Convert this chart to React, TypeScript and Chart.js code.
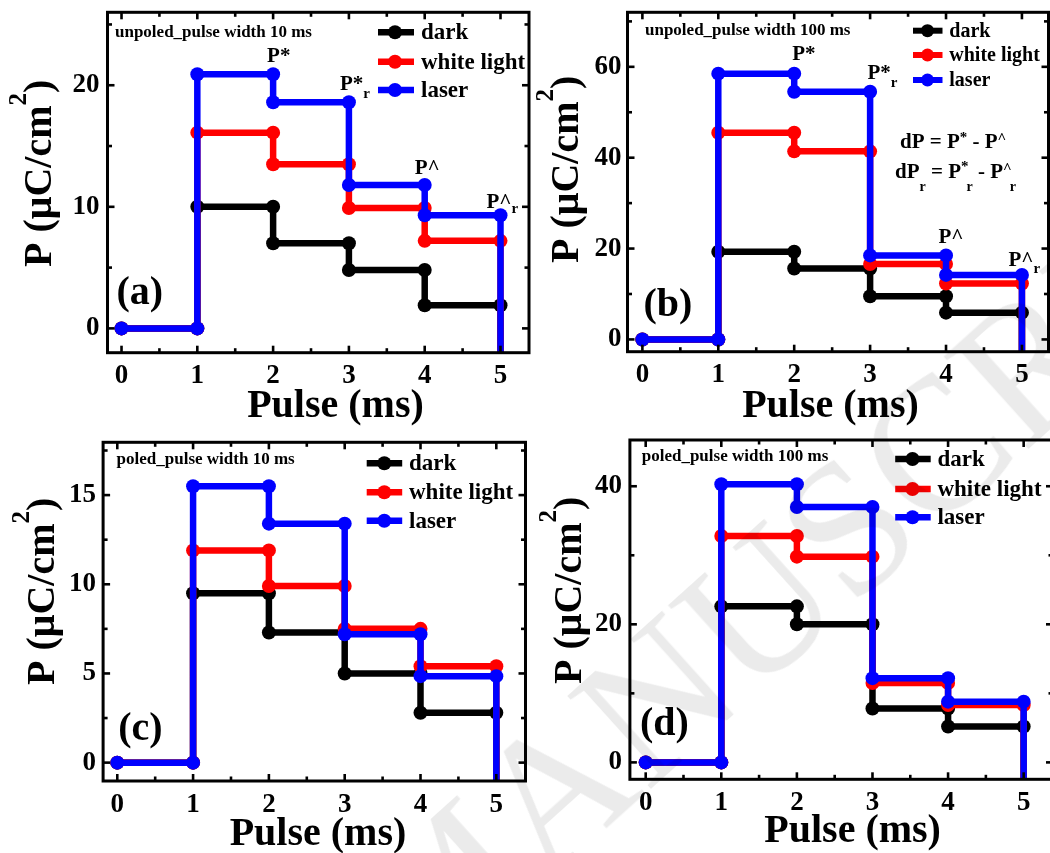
import React, { useEffect, useRef } from 'react';
import { Chart, registerables } from 'chart.js';

Chart.register(...registerables);

const SERIF = '"Liberation Serif", "Times New Roman", Times, serif';
const PAGE_W = 1050;
const PAGE_H = 853;
const CANVAS_W = 1060;

// Pulse number at each vertex of the stepped traces (each level is held for one pulse)
const pulse = [0, 1, 1, 2, 2, 3, 3, 4, 4, 5, 5];
const seriesNames = ['dark', 'white light', 'laser'];
const seriesColors = ['#000000', '#ff0000', '#0000ff'];
const xTickValues = [0, 1, 2, 3, 4, 5];

// (a) unpoled, pulse width 10 ms — P in µC/cm² (last vertex drops off-scale after pulse 5)
const unpoled10Dark = [0, 0, 10.0, 10.0, 7.0, 7.0, 4.8, 4.8, 1.9, 1.9, -10];
const unpoled10White = [0, 0, 16.1, 16.1, 13.5, 13.5, 9.9, 9.9, 7.2, 7.2, -10];
const unpoled10Laser = [0, 0, 20.9, 20.9, 18.6, 18.6, 11.8, 11.8, 9.3, 9.3, -10];
const unpoled10Ticks = [0, 10, 20];

// (b) unpoled, pulse width 100 ms
const unpoled100Dark = [0, 0, 19.3, 19.3, 15.6, 15.6, 9.5, 9.5, 5.9, 5.9, -10];
const unpoled100White = [0, 0, 45.5, 45.5, 41.4, 41.4, 16.6, 16.6, 12.3, 12.3, -10];
const unpoled100Laser = [0, 0, 58.5, 58.5, 54.5, 54.5, 18.5, 18.5, 14.2, 14.2, -10];
const unpoled100Ticks = [0, 20, 40, 60];

// (c) poled, pulse width 10 ms
const poled10Dark = [0, 0, 9.5, 9.5, 7.3, 7.3, 5.0, 5.0, 2.8, 2.8, -10];
const poled10White = [0, 0, 11.9, 11.9, 9.9, 9.9, 7.5, 7.5, 5.4, 5.4, -10];
const poled10Laser = [0, 0, 15.5, 15.5, 13.4, 13.4, 7.2, 7.2, 4.85, 4.85, -10];
const poled10Ticks = [0, 5, 10, 15];

// (d) poled, pulse width 100 ms
const poled100Dark = [0, 0, 22.6, 22.6, 20.0, 20.0, 7.8, 7.8, 5.2, 5.2, -10];
const poled100White = [0, 0, 32.8, 32.8, 29.8, 29.8, 11.5, 11.5, 8.3, 8.3, -10];
const poled100Laser = [0, 0, 40.3, 40.3, 37.0, 37.0, 12.2, 12.2, 8.8, 8.8, -10];
const poled100Ticks = [0, 20, 40];

interface Part { t: string; size?: number; dy?: number; gap?: number }
interface Mark { idx: number; parts: Part[]; dx: number; dy: number }
interface PanelCfg {
  key: string;
  area: { left: number; top: number; right: number; bottom: number };
  xRange: [number, number];
  yRange: [number, number];
  yTicks: number[];
  yMinorStep: number;
  series: number[][];
  note: string;
  notePos: [number, number];
  letter: string;
  letterPos: [number, number];
  legend: { x1: number; x2: number; xm: number; xt: number; rows: number[]; size: number; lw: number; r: number };
  yTitlePos: [number, number];
  xTitlePos: [number, number];
  yTickPad: number;
  xTickPad: number;
  marks: Mark[];
  formulas: { parts: Part[]; x: number; y: number; size: number }[];
}

const sub = (t: string, dy: number): Part => ({ t, size: 15, dy });

const panels: PanelCfg[] = [
  {
    key: 'a',
    area: { left: 107.5, top: 12.3, right: 529, bottom: 352.7 },
    xRange: [-0.185, 5.376],
    yRange: [-2, 26],
    yTicks: unpoled10Ticks,
    yMinorStep: 5,
    series: [unpoled10Dark, unpoled10White, unpoled10Laser],
    note: 'unpoled_pulse width 10 ms',
    notePos: [115, 37],
    letter: '(a)',
    letterPos: [116.5, 304],
    legend: { x1: 378, x2: 414, xm: 395, xt: 421, rows: [32.3, 61.7, 90], size: 23, lw: 6.5, r: 7 },
    yTitlePos: [51, 267],
    xTitlePos: [335.5, 417],
    yTickPad: 8,
    xTickPad: 7,
    marks: [
      { idx: 3, parts: [{ t: 'P*' }], dx: -6, dy: -12.3 },
      { idx: 5, parts: [{ t: 'P*' }, sub('r', 8)], dx: -9, dy: -12.6 },
      { idx: 7, parts: [{ t: 'P^' }], dx: -10, dy: -11.4 },
      { idx: 9, parts: [{ t: 'P^' }, sub('r', 5)], dx: -14, dy: -7 },
    ],
    formulas: [],
  },
  {
    key: 'b',
    area: { left: 627.5, top: 12.3, right: 1048.5, bottom: 351.7 },
    xRange: [-0.196, 5.35],
    yRange: [-2.7, 72],
    yTicks: unpoled100Ticks,
    yMinorStep: 10,
    series: [unpoled100Dark, unpoled100White, unpoled100Laser],
    note: 'unpoled_pulse width 100 ms',
    notePos: [645, 35],
    letter: '(b)',
    letterPos: [643.5, 316],
    legend: { x1: 913, x2: 942.5, xm: 927.5, xt: 949.3, rows: [30.7, 55, 80], size: 20, lw: 6, r: 6.5 },
    yTitlePos: [577.5, 263],
    xTitlePos: [830.5, 417],
    yTickPad: 6,
    xTickPad: 7.5,
    marks: [
      { idx: 3, parts: [{ t: 'P*' }], dx: -2, dy: -13.5 },
      { idx: 5, parts: [{ t: 'P*' }, sub('r', 8)], dx: -2.6, dy: -13 },
      { idx: 7, parts: [{ t: 'P^' }], dx: -7.5, dy: -12.5 },
      { idx: 9, parts: [{ t: 'P^' }, sub('r', 7)], dx: -13.5, dy: -8.5 },
    ],
    formulas: [
      {
        x: 900, y: 148, size: 21,
        parts: [{ t: 'dP = P' }, { t: '*', size: 15, dy: -6 }, { t: ' - P' }, { t: '^', size: 15, dy: -5 }],
      },
      {
        x: 895, y: 178, size: 21,
        parts: [
          { t: 'dP' }, { t: 'r', size: 14, dy: 13 }, { t: ' = P' },
          { t: '*', size: 15, dy: -7, gap: -2 }, { t: 'r', size: 14, dy: 13 },
          { t: ' - P' }, { t: '^', size: 15, dy: -5, gap: -2 }, { t: 'r', size: 14, dy: 13 },
        ],
      },
    ],
  },
  {
    key: 'c',
    area: { left: 103.1, top: 442.3, right: 525.5, bottom: 781 },
    xRange: [-0.187, 5.385],
    yRange: [-1.03, 17.96],
    yTicks: poled10Ticks,
    yMinorStep: 2.5,
    series: [poled10Dark, poled10White, poled10Laser],
    note: 'poled_pulse width 10 ms',
    notePos: [116.6, 464],
    letter: '(c)',
    letterPos: [118.3, 740],
    legend: { x1: 366.7, x2: 402.2, xm: 384.3, xt: 409, rows: [463.3, 492.3, 520.7], size: 23, lw: 6.5, r: 7 },
    yTitlePos: [54, 685],
    xTitlePos: [318, 845],
    yTickPad: 7,
    xTickPad: 7.8,
    marks: [],
    formulas: [],
  },
  {
    key: 'd',
    area: { left: 629.9, top: 440, right: 1053, bottom: 779.3 },
    xRange: [-0.209, 5.388],
    yRange: [-2.45, 46.7],
    yTicks: poled100Ticks,
    yMinorStep: 10,
    series: [poled100Dark, poled100White, poled100Laser],
    note: 'poled_pulse width 100 ms',
    notePos: [641.7, 461],
    letter: '(d)',
    letterPos: [640, 735],
    legend: { x1: 895.2, x2: 930.7, xm: 912.5, xt: 937.4, rows: [459, 489, 517.3], size: 23, lw: 6.5, r: 7 },
    yTitlePos: [581, 684],
    xTitlePos: [852.6, 842],
    yTickPad: 8,
    xTickPad: 7.8,
    marks: [],
    formulas: [],
  },
];

function minorValues(min: number, max: number, step: number, majors: number[]) {
  const out: number[] = [];
  for (let k = Math.ceil(min / step); k * step <= max; k++) {
    const v = k * step;
    if (!majors.some((m) => Math.abs(m - v) < 1e-9)) out.push(v);
  }
  return out;
}

function drawRich(ctx: CanvasRenderingContext2D, parts: Part[], x: number, y: number, size: number) {
  let cx = x;
  for (const p of parts) {
    const s = p.size ?? size;
    ctx.font = `bold ${s}px ${SERIF}`;
    ctx.fillText(p.t, cx, y + (p.dy ?? 0));
    cx += ctx.measureText(p.t).width + (p.gap ?? 0);
  }
}

function decor(cfg: PanelCfg) {
  return {
    id: 'decor',
    afterDatasetsDraw(chart: any) {
      const { ctx, chartArea: ca } = chart;
      const xs = chart.scales.x;
      const ys = chart.scales.y;
      ctx.save();
      ctx.strokeStyle = '#000';
      ctx.lineCap = 'butt';
      const seg = (x1: number, y1: number, x2: number, y2: number) => {
        ctx.beginPath();
        ctx.moveTo(x1, y1);
        ctx.lineTo(x2, y2);
        ctx.stroke();
      };
      const xTick = (v: number, len: number) => {
        const px = xs.getPixelForValue(v);
        seg(px, ca.bottom, px, ca.bottom - len);
        seg(px, ca.top, px, ca.top + len);
      };
      const yTick = (v: number, len: number) => {
        const py = ys.getPixelForValue(v);
        seg(ca.left, py, ca.left + len, py);
        seg(ca.right, py, ca.right - len, py);
      };
      ctx.lineWidth = 2.6;
      xTickValues.forEach((v) => xTick(v, 7));
      cfg.yTicks.forEach((v) => yTick(v, 7));
      minorValues(xs.min, xs.max, 0.5, xTickValues).forEach((v) => xTick(v, 4.5));
      minorValues(ys.min, ys.max, cfg.yMinorStep, cfg.yTicks).forEach((v) => yTick(v, 4.5));
      ctx.lineWidth = 3;
      ctx.strokeRect(ca.left, ca.top, ca.right - ca.left, ca.bottom - ca.top);
      ctx.restore();
    },
    afterDraw(chart: any) {
      const { ctx } = chart;
      const xs = chart.scales.x;
      const ys = chart.scales.y;
      ctx.save();
      ctx.fillStyle = '#000';
      ctx.textBaseline = 'alphabetic';
      ctx.textAlign = 'left';

      // condition note
      ctx.font = `bold 17px ${SERIF}`;
      ctx.fillText(cfg.note, cfg.notePos[0], cfg.notePos[1]);

      // panel letter
      ctx.font = `bold 40px ${SERIF}`;
      ctx.fillText(cfg.letter, cfg.letterPos[0], cfg.letterPos[1]);

      // legend: line sample with a dot, then the series name
      const lg = cfg.legend;
      lg.rows.forEach((ry, i) => {
        ctx.strokeStyle = seriesColors[i];
        ctx.fillStyle = seriesColors[i];
        ctx.lineWidth = lg.lw;
        ctx.lineCap = 'butt';
        ctx.beginPath();
        ctx.moveTo(lg.x1, ry);
        ctx.lineTo(lg.x2, ry);
        ctx.stroke();
        ctx.beginPath();
        ctx.arc(lg.xm, ry, lg.r, 0, Math.PI * 2);
        ctx.fill();
        ctx.fillStyle = '#000';
        ctx.font = `bold ${lg.size}px ${SERIF}`;
        ctx.fillText(seriesNames[i], lg.xt, ry + lg.size * 0.31);
      });

      // labels on the laser trace
      ctx.fillStyle = '#000';
      const laser = cfg.series[cfg.series.length - 1];
      cfg.marks.forEach((m) => {
        const px = xs.getPixelForValue(pulse[m.idx]);
        const py = ys.getPixelForValue(laser[m.idx]);
        drawRich(ctx, m.parts, px + m.dx, py + m.dy, 21);
      });

      cfg.formulas.forEach((f) => drawRich(ctx, f.parts, f.x, f.y, f.size));

      // x-axis title
      ctx.font = `bold 40px ${SERIF}`;
      ctx.textAlign = 'center';
      ctx.fillText('Pulse (ms)', cfg.xTitlePos[0], cfg.xTitlePos[1]);
      ctx.textAlign = 'left';

      // y-axis title, rotated
      ctx.save();
      ctx.translate(cfg.yTitlePos[0], cfg.yTitlePos[1]);
      ctx.rotate(-Math.PI / 2);
      drawRich(ctx, [{ t: 'P (μC/cm' }, { t: '2', size: 25, dy: -25 }, { t: ')' }], 0, 0, 40);
      ctx.restore();

      ctx.restore();
    },
  };
}

function buildConfig(cfg: PanelCfg): any {
  const a = cfg.area;
  const tickFont = { family: SERIF, size: 27, weight: 'bold' };
  const zeroPad = (s: any) => {
    s.paddingLeft = 0;
    s.paddingRight = 0;
    s.paddingTop = 0;
    s.paddingBottom = 0;
  };
  return {
    type: 'line',
    data: {
      datasets: cfg.series.map((vals, i) => ({
        label: seriesNames[i],
        data: pulse.map((p, j) => ({ x: p, y: vals[j] })),
        borderColor: seriesColors[i],
        backgroundColor: seriesColors[i],
        pointBackgroundColor: seriesColors[i],
        pointBorderColor: seriesColors[i],
        pointBorderWidth: 0,
        pointRadius: 7,
        pointHoverRadius: 7,
        borderWidth: 6.5,
        tension: 0,
        fill: false,
        order: cfg.series.length - i,
      })),
    },
    options: {
      responsive: false,
      animation: false,
      events: [],
      layout: { padding: { left: 0, top: a.top, right: CANVAS_W - a.right, bottom: 0 } },
      plugins: {
        legend: { display: false },
        tooltip: { enabled: false },
        title: { display: false },
      },
      scales: {
        x: {
          type: 'linear',
          min: cfg.xRange[0],
          max: cfg.xRange[1],
          grid: { display: false, drawTicks: false },
          border: { display: false },
          ticks: { font: tickFont, color: '#000', padding: cfg.xTickPad, maxRotation: 0, autoSkip: false },
          afterBuildTicks: (s: any) => {
            s.ticks = xTickValues.map((v) => ({ value: v }));
          },
          afterFit: (s: any) => {
            s.height = PAGE_H - a.bottom;
            zeroPad(s);
          },
        },
        y: {
          type: 'linear',
          min: cfg.yRange[0],
          max: cfg.yRange[1],
          grid: { display: false, drawTicks: false },
          border: { display: false },
          ticks: { font: tickFont, color: '#000', padding: cfg.yTickPad, autoSkip: false },
          afterBuildTicks: (s: any) => {
            s.ticks = cfg.yTicks.map((v) => ({ value: v }));
          },
          afterFit: (s: any) => {
            s.width = a.left;
            zeroPad(s);
          },
        },
      },
    },
    plugins: [decor(cfg)],
  };
}

function Panel({ cfg }: { cfg: PanelCfg }) {
  const ref = useRef<HTMLCanvasElement>(null);
  useEffect(() => {
    const canvas = ref.current;
    if (!canvas) return;
    const chart = new Chart(canvas, buildConfig(cfg));
    return () => chart.destroy();
  }, [cfg]);
  return (
    <canvas
      ref={ref}
      width={CANVAS_W}
      height={PAGE_H}
      style={{ position: 'absolute', left: 0, top: 0, width: CANVAS_W, height: PAGE_H }}
    />
  );
}

export default function App() {
  return (
    <div
      style={{
        position: 'fixed',
        left: 0,
        top: 0,
        width: PAGE_W,
        height: PAGE_H,
        overflow: 'hidden',
        background: '#ffffff',
      }}
    >
      {panels.map((p) => (
        <Panel key={p.key} cfg={p} />
      ))}
      <div
        style={{
          position: 'absolute',
          left: -452,
          top: 1568,
          transform: 'rotate(-42deg)',
          transformOrigin: '0 0',
          font: `190px ${SERIF}`,
          lineHeight: 1,
          color: 'rgba(0,0,0,0.08)',
          whiteSpace: 'nowrap',
          pointerEvents: 'none',
        }}
      >
        ACCEPTED MANUSCRIPT
      </div>
    </div>
  );
}
